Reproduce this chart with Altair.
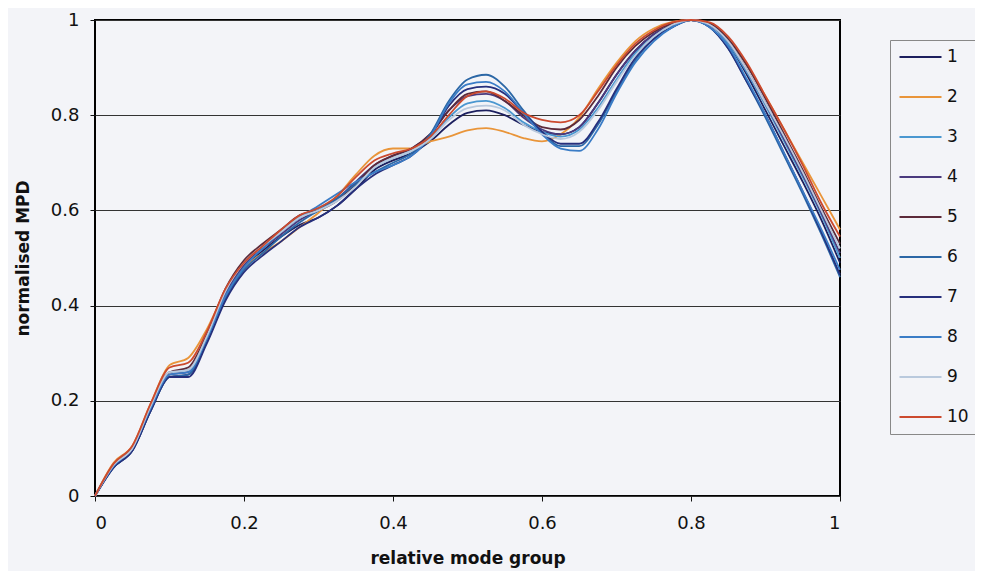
import altair as alt
import pandas as pd

x_vals = [0.0, 0.025, 0.05, 0.075, 0.1, 0.125, 0.15, 0.175, 0.2, 0.225,
          0.25, 0.275, 0.3, 0.325, 0.35, 0.375, 0.4, 0.425, 0.45, 0.475,
          0.5, 0.525, 0.55, 0.575, 0.6, 0.625, 0.65, 0.675, 0.7, 0.725,
          0.75, 0.775, 0.8, 0.825, 0.85, 0.875, 0.9, 0.925, 0.95, 0.975,
          1.0]

s1 = [0, 0.06, 0.095, 0.18, 0.25, 0.255, 0.325, 0.42, 0.48, 0.515,
      0.545, 0.57, 0.585, 0.61, 0.645, 0.685, 0.705, 0.72, 0.745, 0.78,
      0.805, 0.81, 0.80, 0.78, 0.765, 0.76, 0.775, 0.825, 0.885, 0.935,
      0.97, 0.99, 1.0, 0.99, 0.95, 0.885, 0.81, 0.735, 0.66, 0.58,
      0.49]
s2 = [0, 0.07, 0.105, 0.195, 0.275, 0.29, 0.35, 0.43, 0.48, 0.51,
      0.535, 0.565, 0.595, 0.63, 0.675, 0.715, 0.73, 0.73, 0.745, 0.755,
      0.768, 0.773, 0.765, 0.752, 0.745, 0.76, 0.795, 0.855, 0.91, 0.955,
      0.982, 0.996, 1.0, 0.99, 0.96, 0.905, 0.84, 0.77, 0.70, 0.63,
      0.56]
s3 = [0, 0.065, 0.10, 0.19, 0.26, 0.265, 0.335, 0.43, 0.49, 0.525,
      0.555, 0.585, 0.605, 0.625, 0.655, 0.69, 0.71, 0.725, 0.75, 0.795,
      0.825, 0.83, 0.815, 0.785, 0.765, 0.755, 0.77, 0.815, 0.875, 0.93,
      0.965, 0.99, 1.0, 0.99, 0.95, 0.89, 0.82, 0.745, 0.67, 0.59,
      0.50]
s4 = [0, 0.062, 0.098, 0.185, 0.255, 0.26, 0.33, 0.425, 0.485, 0.52,
      0.55, 0.58, 0.60, 0.625, 0.66, 0.695, 0.715, 0.73, 0.76, 0.81,
      0.84, 0.845, 0.83, 0.795, 0.77, 0.76, 0.775, 0.825, 0.885, 0.935,
      0.97, 0.99, 1.0, 0.99, 0.955, 0.895, 0.825, 0.75, 0.675, 0.595,
      0.51]
s5 = [0, 0.065, 0.10, 0.19, 0.26, 0.27, 0.34, 0.435, 0.495, 0.53,
      0.56, 0.59, 0.60, 0.62, 0.655, 0.695, 0.715, 0.73, 0.76, 0.81,
      0.845, 0.85, 0.83, 0.80, 0.775, 0.77, 0.79, 0.84, 0.90, 0.945,
      0.975, 0.993, 1.0, 0.993, 0.96, 0.905, 0.835, 0.76, 0.685, 0.605,
      0.53]
s6 = [0, 0.06, 0.095, 0.18, 0.25, 0.255, 0.325, 0.415, 0.475, 0.51,
      0.545, 0.575, 0.60, 0.625, 0.655, 0.68, 0.70, 0.72, 0.76, 0.83,
      0.875, 0.885, 0.86, 0.81, 0.765, 0.735, 0.735, 0.78, 0.85, 0.915,
      0.96, 0.985, 1.0, 0.985, 0.94, 0.87, 0.795, 0.715, 0.635, 0.55,
      0.46]
s7 = [0, 0.06, 0.095, 0.18, 0.25, 0.25, 0.32, 0.41, 0.47, 0.505,
      0.535, 0.565, 0.585, 0.61, 0.645, 0.675, 0.695, 0.715, 0.755, 0.82,
      0.855, 0.86, 0.845, 0.805, 0.765, 0.74, 0.74, 0.785, 0.855, 0.92,
      0.96, 0.985, 1.0, 0.985, 0.94, 0.87, 0.80, 0.72, 0.64, 0.555,
      0.465]
s8 = [0, 0.063, 0.10, 0.185, 0.255, 0.26, 0.33, 0.42, 0.48, 0.52,
      0.555, 0.585, 0.61, 0.635, 0.66, 0.68, 0.695, 0.715, 0.755, 0.825,
      0.865, 0.87, 0.85, 0.805, 0.76, 0.73, 0.725, 0.77, 0.845, 0.91,
      0.955, 0.985, 1.0, 0.985, 0.945, 0.875, 0.80, 0.72, 0.64, 0.56,
      0.475]
s9 = [0, 0.065, 0.10, 0.19, 0.26, 0.265, 0.335, 0.43, 0.49, 0.525,
      0.555, 0.585, 0.60, 0.62, 0.65, 0.69, 0.71, 0.725, 0.75, 0.79,
      0.815, 0.82, 0.81, 0.78, 0.76, 0.75, 0.765, 0.81, 0.87, 0.925,
      0.965, 0.99, 1.0, 0.99, 0.955, 0.895, 0.825, 0.755, 0.68, 0.60,
      0.52]
s10 = [0, 0.068, 0.105, 0.195, 0.27, 0.28, 0.345, 0.435, 0.49, 0.525,
       0.56, 0.59, 0.605, 0.63, 0.67, 0.705, 0.72, 0.73, 0.755, 0.80,
       0.84, 0.85, 0.835, 0.805, 0.79, 0.785, 0.80, 0.85, 0.905, 0.95,
       0.978, 0.995, 1.0, 0.995, 0.965, 0.91, 0.84, 0.77, 0.695, 0.615,
       0.545]

series_names = ["1", "2", "3", "4", "5", "6", "7", "8", "9", "10"]
series_values = [s1, s2, s3, s4, s5, s6, s7, s8, s9, s10]
series_colors = ["#1c1f5e", "#e9953a", "#4a97d0", "#4a3a7e", "#5c2a3a",
                 "#2b67a6", "#262f7c", "#3a7cc6", "#b9c9dd", "#cc4a2e"]

tick_vals = [0, 0.2, 0.4, 0.6, 0.8, 1.0]

rows = []
for name, vals in zip(series_names, series_values):
    for i, (xv, yv) in enumerate(zip(x_vals, vals)):
        rows.append({"x": xv, "y": yv, "series": name, "idx": i})
df = pd.DataFrame(rows)

BG = "#f3f4f8"
FONT = "DejaVu Sans"

chart = alt.Chart(df).mark_line(interpolate="monotone", strokeWidth=1.8).encode(
    x=alt.X("x:Q", scale=alt.Scale(domain=[0, 1], nice=False),
            axis=alt.Axis(values=tick_vals, format="~g", grid=False,
                          title="relative mode group", tickSize=5,
                          labelPadding=13, titlePadding=18)),
    y=alt.Y("y:Q", scale=alt.Scale(domain=[0, 1], nice=False),
            axis=alt.Axis(values=tick_vals, format="~g", grid=True,
                          title="normalised MPD", tickSize=5,
                          labelPadding=11, titlePadding=18)),
    color=alt.Color("series:N",
                    scale=alt.Scale(domain=series_names, range=series_colors),
                    sort=series_names,
                    legend=alt.Legend(title=None, orient="none",
                                      legendX=795, legendY=20,
                                      symbolType="stroke", symbolSize=1764,
                                      symbolStrokeWidth=2.2,
                                      labelFontSize=17, labelFont=FONT,
                                      labelColor="#111",
                                      rowPadding=22, padding=8,
                                      clipHeight=18, labelOffset=4,
                                      strokeColor="#888", fillColor=BG)),
    order=alt.Order("idx:Q"),
).properties(
    width=745, height=476, background=BG,
    padding={"left": 87, "top": 12, "right": 135, "bottom": 75},
    autosize=alt.AutoSizeParams(type="none"),
).configure_view(
    stroke="black", strokeWidth=2
).configure_axis(
    labelFont=FONT, labelFontSize=18, labelColor="#111",
    titleFont=FONT, titleFontSize=17, titleFontWeight="bold", titleColor="#111",
    tickColor="#111", domain=False, gridColor="#333", gridWidth=1,
)

chart.save("out.html", embed_options={"renderer": "svg", "actions": False})
